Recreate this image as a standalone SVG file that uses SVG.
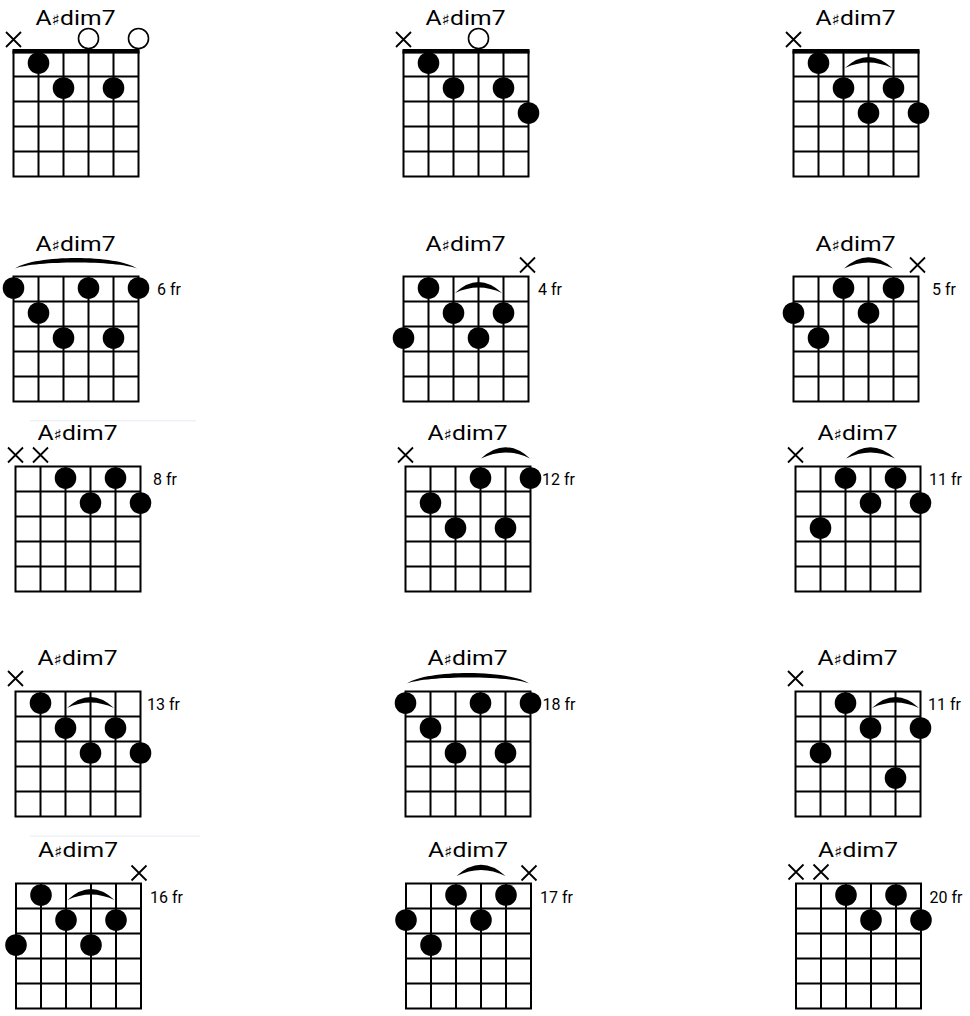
<svg xmlns="http://www.w3.org/2000/svg" xmlns:xlink="http://www.w3.org/1999/xlink" width="970" height="1016" viewBox="0 0 970 1016">
<style>
.grid{fill:none;stroke:#000;stroke-width:2}
.nut{fill:#000}
.dot{fill:#000}
.open{fill:#fff;stroke:#000;stroke-width:1.6}
.mute{fill:none;stroke:#000;stroke-width:1.8}
.barre{fill:#000}
.title{font-family:Roboto,"Liberation Sans",sans-serif;font-size:21px;fill:#000}
.sh{font-family:"DejaVu Sans",sans-serif;font-size:15px}
.fr{font-family:Roboto,"Liberation Sans",sans-serif;font-size:16px;fill:#000}
.ghost{fill:#edf2f9}
</style>
<defs>
<path id="gridp" class="grid" d="M13.5 51.5V176.5M38.5 51.5V176.5M63.5 51.5V176.5M88.5 51.5V176.5M113.5 51.5V176.5M138.5 51.5V176.5M12.5 51.5H139.5M12.5 76.5H139.5M12.5 101.5H139.5M12.5 126.5H139.5M12.5 151.5H139.5M12.5 176.5H139.5"/>
<rect id="nutp" class="nut" x="12.5" y="49" width="127" height="4.6"/>
<path id="xm" class="mute" d="M-7.5 -7.5L7.5 7.5M7.5 -7.5L-7.5 7.5"/>
<path id="bigarc" class="barre" d="M15 43.5C35 29.5 117 29.5 137 43.5C117 35.5 35 35.5 15 43.5Z"/>
</defs>
<rect width="970" height="1016" fill="#fff"/>
<rect class="ghost" x="30" y="420" width="166" height="1.5"/>
<rect class="ghost" x="30" y="835.5" width="170" height="1.5"/>

<!-- Row 1 -->
<g id="chord1" transform="translate(0,0)">
<text class="title" x="75.5" y="25" text-anchor="middle" textLength="80" lengthAdjust="spacingAndGlyphs">A<tspan class="sh">♯</tspan>dim7</text>
<use href="#gridp"/><use href="#nutp"/>
<use href="#xm" x="13.5" y="39.5"/>
<circle class="open" cx="88.5" cy="38.5" r="10"/>
<circle class="open" cx="138.5" cy="38.5" r="10"/>
<circle class="dot" cx="38.5" cy="63" r="10.8"/>
<circle class="dot" cx="63.5" cy="88" r="10.8"/>
<circle class="dot" cx="113.5" cy="88" r="10.8"/>
</g>
<g id="chord2" transform="translate(390,0)">
<text class="title" x="75.5" y="25" text-anchor="middle" textLength="80" lengthAdjust="spacingAndGlyphs">A<tspan class="sh">♯</tspan>dim7</text>
<use href="#gridp"/><use href="#nutp"/>
<use href="#xm" x="13.5" y="39.5"/>
<circle class="open" cx="88.5" cy="38.5" r="10"/>
<circle class="dot" cx="38.5" cy="63" r="10.8"/>
<circle class="dot" cx="63.5" cy="88" r="10.8"/>
<circle class="dot" cx="113.5" cy="88" r="10.8"/>
<circle class="dot" cx="138.5" cy="113" r="10.8"/>
</g>
<g id="chord3" transform="translate(780,0)">
<text class="title" x="75.5" y="25" text-anchor="middle" textLength="80" lengthAdjust="spacingAndGlyphs">A<tspan class="sh">♯</tspan>dim7</text>
<use href="#gridp"/><use href="#nutp"/>
<use href="#xm" x="13.5" y="39.5"/>
<path class="barre" d="M65 68Q88.5 46 112 68Q88.5 57 65 68Z"/>
<circle class="dot" cx="38.5" cy="63" r="10.8"/>
<circle class="dot" cx="63.5" cy="88" r="10.8"/>
<circle class="dot" cx="113.5" cy="88" r="10.8"/>
<circle class="dot" cx="88.5" cy="113" r="10.8"/>
<circle class="dot" cx="138.5" cy="113" r="10.8"/>
</g>

<!-- Row 2 -->
<g id="chord4" transform="translate(0,225)">
<text class="title" x="75.5" y="26" text-anchor="middle" textLength="80" lengthAdjust="spacingAndGlyphs">A<tspan class="sh">♯</tspan>dim7</text>
<use href="#gridp"/>
<use href="#bigarc"/>
<circle class="dot" cx="13.5" cy="63" r="10.8"/>
<circle class="dot" cx="88.5" cy="63" r="10.8"/>
<circle class="dot" cx="138.5" cy="63" r="10.8"/>
<circle class="dot" cx="38.5" cy="88" r="10.8"/>
<circle class="dot" cx="63.5" cy="113" r="10.8"/>
<circle class="dot" cx="113.5" cy="113" r="10.8"/>
<text class="fr" x="157" y="70">6 fr</text>
</g>
<g id="chord5" transform="translate(390,225)">
<text class="title" x="75.5" y="26" text-anchor="middle" textLength="80" lengthAdjust="spacingAndGlyphs">A<tspan class="sh">♯</tspan>dim7</text>
<use href="#gridp"/>
<use href="#xm" x="137.5" y="40"/>
<path class="barre" d="M65 68Q88.5 46 112 68Q88.5 57 65 68Z"/>
<circle class="dot" cx="38.5" cy="63" r="10.8"/>
<circle class="dot" cx="63.5" cy="88" r="10.8"/>
<circle class="dot" cx="113.5" cy="88" r="10.8"/>
<circle class="dot" cx="13.5" cy="113" r="10.8"/>
<circle class="dot" cx="88.5" cy="113" r="10.8"/>
<text class="fr" x="148" y="70">4 fr</text>
</g>
<g id="chord6" transform="translate(780,225)">
<text class="title" x="75.5" y="26" text-anchor="middle" textLength="80" lengthAdjust="spacingAndGlyphs">A<tspan class="sh">♯</tspan>dim7</text>
<use href="#gridp"/>
<use href="#xm" x="137.5" y="40"/>
<path class="barre" d="M64 43.5Q88.5 21 113 43.5Q88.5 31.5 64 43.5Z"/>
<circle class="dot" cx="63.5" cy="63" r="10.8"/>
<circle class="dot" cx="113.5" cy="63" r="10.8"/>
<circle class="dot" cx="13.5" cy="88" r="10.8"/>
<circle class="dot" cx="88.5" cy="88" r="10.8"/>
<circle class="dot" cx="38.5" cy="113" r="10.8"/>
<text class="fr" x="152" y="70">5 fr</text>
</g>

<!-- Row 3 -->
<g id="chord7" transform="translate(2,415)">
<text class="title" x="75.5" y="25" text-anchor="middle" textLength="80" lengthAdjust="spacingAndGlyphs">A<tspan class="sh">♯</tspan>dim7</text>
<use href="#gridp"/>
<use href="#xm" x="13.5" y="40"/>
<use href="#xm" x="38.5" y="40"/>
<circle class="dot" cx="63.5" cy="63" r="10.8"/>
<circle class="dot" cx="113.5" cy="63" r="10.8"/>
<circle class="dot" cx="88.5" cy="88" r="10.8"/>
<circle class="dot" cx="138.5" cy="88" r="10.8"/>
<text class="fr" x="151" y="70">8 fr</text>
</g>
<g id="chord8" transform="translate(392,415)">
<text class="title" x="75.5" y="25" text-anchor="middle" textLength="80" lengthAdjust="spacingAndGlyphs">A<tspan class="sh">♯</tspan>dim7</text>
<use href="#gridp"/>
<use href="#xm" x="13.5" y="40"/>
<path class="barre" d="M89 43.5Q113.5 21 138 43.5Q113.5 31.5 89 43.5Z"/>
<circle class="dot" cx="88.5" cy="63" r="10.8"/>
<circle class="dot" cx="138.5" cy="63" r="10.8"/>
<circle class="dot" cx="38.5" cy="88" r="10.8"/>
<circle class="dot" cx="63.5" cy="113" r="10.8"/>
<circle class="dot" cx="113.5" cy="113" r="10.8"/>
<text class="fr" x="150" y="70">12 fr</text>
</g>
<g id="chord9" transform="translate(782,415)">
<text class="title" x="75.5" y="25" text-anchor="middle" textLength="80" lengthAdjust="spacingAndGlyphs">A<tspan class="sh">♯</tspan>dim7</text>
<use href="#gridp"/>
<use href="#xm" x="13.5" y="40"/>
<path class="barre" d="M64 43.5Q88.5 21 113 43.5Q88.5 31.5 64 43.5Z"/>
<circle class="dot" cx="63.5" cy="63" r="10.8"/>
<circle class="dot" cx="113.5" cy="63" r="10.8"/>
<circle class="dot" cx="88.5" cy="88" r="10.8"/>
<circle class="dot" cx="138.5" cy="88" r="10.8"/>
<circle class="dot" cx="38.5" cy="113" r="10.8"/>
<text class="fr" x="147" y="70">11 fr</text>
</g>

<!-- Row 4 -->
<g id="chord10" transform="translate(2,640)">
<text class="title" x="75.5" y="25" text-anchor="middle" textLength="80" lengthAdjust="spacingAndGlyphs">A<tspan class="sh">♯</tspan>dim7</text>
<use href="#gridp"/>
<use href="#xm" x="13.5" y="38.5"/>
<path class="barre" d="M65 68Q88.5 46 112 68Q88.5 57 65 68Z"/>
<circle class="dot" cx="38.5" cy="63" r="10.8"/>
<circle class="dot" cx="63.5" cy="88" r="10.8"/>
<circle class="dot" cx="113.5" cy="88" r="10.8"/>
<circle class="dot" cx="88.5" cy="113" r="10.8"/>
<circle class="dot" cx="138.5" cy="113" r="10.8"/>
<text class="fr" x="145" y="70">13 fr</text>
</g>
<g id="chord11" transform="translate(392,640)">
<text class="title" x="75.5" y="25" text-anchor="middle" textLength="80" lengthAdjust="spacingAndGlyphs">A<tspan class="sh">♯</tspan>dim7</text>
<use href="#gridp"/>
<use href="#bigarc"/>
<circle class="dot" cx="13.5" cy="63" r="10.8"/>
<circle class="dot" cx="88.5" cy="63" r="10.8"/>
<circle class="dot" cx="138.5" cy="63" r="10.8"/>
<circle class="dot" cx="38.5" cy="88" r="10.8"/>
<circle class="dot" cx="63.5" cy="113" r="10.8"/>
<circle class="dot" cx="113.5" cy="113" r="10.8"/>
<text class="fr" x="150.5" y="70">18 fr</text>
</g>
<g id="chord12" transform="translate(782,640)">
<text class="title" x="75.5" y="25" text-anchor="middle" textLength="80" lengthAdjust="spacingAndGlyphs">A<tspan class="sh">♯</tspan>dim7</text>
<use href="#gridp"/>
<use href="#xm" x="13.5" y="38.5"/>
<path class="barre" d="M90 68Q113.5 46 137 68Q113.5 57 90 68Z"/>
<circle class="dot" cx="63.5" cy="63" r="10.8"/>
<circle class="dot" cx="88.5" cy="88" r="10.8"/>
<circle class="dot" cx="138.5" cy="88" r="10.8"/>
<circle class="dot" cx="38.5" cy="113" r="10.8"/>
<circle class="dot" cx="113.5" cy="138" r="10.8"/>
<text class="fr" x="146" y="70">11 fr</text>
</g>

<!-- Row 5 -->
<g id="chord13" transform="translate(2.5,832)">
<text class="title" x="75.5" y="25" text-anchor="middle" textLength="80" lengthAdjust="spacingAndGlyphs">A<tspan class="sh">♯</tspan>dim7</text>
<use href="#gridp"/>
<use href="#xm" x="136.5" y="41"/>
<path class="barre" d="M65 68Q88.5 46 112 68Q88.5 57 65 68Z"/>
<circle class="dot" cx="38.5" cy="63" r="10.8"/>
<circle class="dot" cx="63.5" cy="88" r="10.8"/>
<circle class="dot" cx="113.5" cy="88" r="10.8"/>
<circle class="dot" cx="13.5" cy="113" r="10.8"/>
<circle class="dot" cx="88.5" cy="113" r="10.8"/>
<text class="fr" x="147.5" y="71">16 fr</text>
</g>
<g id="chord14" transform="translate(392.5,832)">
<text class="title" x="75.5" y="25" text-anchor="middle" textLength="80" lengthAdjust="spacingAndGlyphs">A<tspan class="sh">♯</tspan>dim7</text>
<use href="#gridp"/>
<use href="#xm" x="136.5" y="41"/>
<path class="barre" d="M64 44Q88.5 21.5 113 44Q88.5 32 64 44Z"/>
<circle class="dot" cx="63.5" cy="63" r="10.8"/>
<circle class="dot" cx="113.5" cy="63" r="10.8"/>
<circle class="dot" cx="13.5" cy="88" r="10.8"/>
<circle class="dot" cx="88.5" cy="88" r="10.8"/>
<circle class="dot" cx="38.5" cy="113" r="10.8"/>
<text class="fr" x="147.5" y="71">17 fr</text>
</g>
<g id="chord15" transform="translate(782.5,832)">
<text class="title" x="75.5" y="25" text-anchor="middle" textLength="80" lengthAdjust="spacingAndGlyphs">A<tspan class="sh">♯</tspan>dim7</text>
<use href="#gridp"/>
<use href="#xm" x="13.5" y="40"/>
<use href="#xm" x="38.5" y="40"/>
<circle class="dot" cx="63.5" cy="63" r="10.8"/>
<circle class="dot" cx="113.5" cy="63" r="10.8"/>
<circle class="dot" cx="88.5" cy="88" r="10.8"/>
<circle class="dot" cx="138.5" cy="88" r="10.8"/>
<text class="fr" x="147" y="71">20 fr</text>
</g>
</svg>
